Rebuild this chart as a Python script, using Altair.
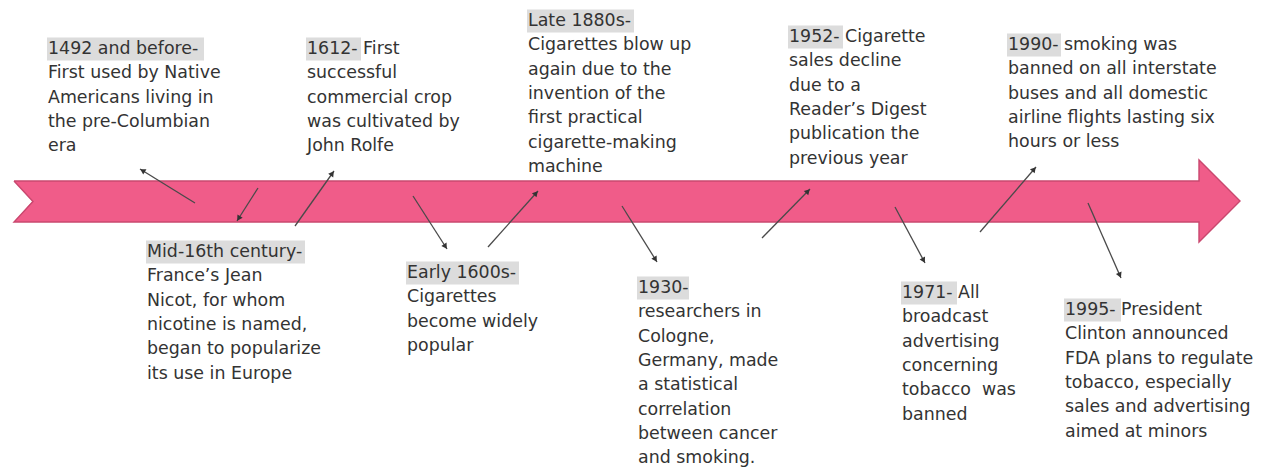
import altair as alt
import pandas as pd
import numpy as np

# ---------------- content ----------------
titles = ["1492 and before-", "1612-", "Late 1880s-", "1952-", "1990-",
          "Mid-16th century-", "Early 1600s-", "1930-", "1971-", "1995-"]
title_tail = ["", " First", "", " Cigarette", " smoking was",
              "", "", "", " All", " President"]
bodies = [
    ["First used by Native", "Americans living in", "the pre-Columbian", "era"],
    ["successful", "commercial crop", "was cultivated by", "John Rolfe"],
    ["Cigarettes blow up", "again due to the", "invention of the", "first practical",
     "cigarette-making", "machine"],
    ["sales decline", "due to a", "Reader’s Digest", "publication the", "previous year"],
    ["banned on all interstate", "buses and all domestic", "airline flights lasting six",
     "hours or less"],
    ["France’s Jean", "Nicot, for whom", "nicotine is named,", "began to popularize",
     "its use in Europe"],
    ["Cigarettes", "become widely", "popular"],
    ["researchers in", "Cologne,", "Germany, made", "a statistical", "correlation",
     "between cancer", "and smoking."],
    ["broadcast", "advertising", "concerning", "tobacco\u00a0 was", "banned"],
    ["Clinton announced", "FDA plans to regulate", "tobacco, especially",
     "sales and advertising", "aimed at minors"],
]

# ---------------- layout (page pixel coordinates) ----------------
label_x = [48, 307, 528, 789, 1008, 147, 407, 638, 902, 1065]
label_y = [49, 49, 21, 37, 45, 252, 273, 288, 293, 310]
highlight_w = [157, 55, 107, 55, 54, 159, 113, 52, 56, 57]
line_gap = 24.3

arrow_x1 = [195, 258, 295, 413, 488, 622, 762, 895, 980, 1088]
arrow_y1 = [203, 188, 226, 196, 247, 206, 238, 207, 232, 203]
arrow_x2 = [140, 237, 334, 447, 538, 657, 810, 925, 1036, 1121]
arrow_y2 = [169, 221, 171, 249, 191, 262, 189, 263, 167, 278]

band_part = ["upper"] * 3 + ["lower"] * 3 + ["head"] * 2
band_x = [14, 33, 1199, 14, 33, 1199, 1199, 1240]
band_y = [181, 181, 181, 222, 200.5, 200.5, 160, 201]
band_y2 = [181, 202, 202, 222, 222, 222, 242, 201]

outline_x = [14, 1199, 1199, 1240, 1199, 1199, 14, 33, 14]
outline_y = [181, 181, 160, 201, 242, 222, 222, 201.5, 181]

FONT = "DejaVu Sans"
FS = 17.4
PINK = "#f05c89"
EDGE = "#c9486f"
INK = "#333333"

# ---------------- tables ----------------
rows = []
for i, t in enumerate(titles):
    rows.append({"x": label_x[i], "y": label_y[i], "text": t + title_tail[i], "kind": "title"})
    for j, line in enumerate(bodies[i]):
        rows.append({"x": label_x[i], "y": label_y[i] + (j + 1) * line_gap,
                     "text": line, "kind": "body"})
lines_df = pd.DataFrame(rows)

hl_df = pd.DataFrame({
    "x": np.array(label_x) - 1,
    "x2": np.array(label_x) - 1 + np.array(highlight_w),
    "y": np.array(label_y) - 11.5,
    "y2": np.array(label_y) + 11.5,
})

ax1, ay1 = np.array(arrow_x1, float), np.array(arrow_y1, float)
ax2, ay2 = np.array(arrow_x2, float), np.array(arrow_y2, float)
dx, dy = ax2 - ax1, ay2 - ay1
ln = np.hypot(dx, dy)
ang = np.degrees(np.arctan2(dx, -dy)) % 360
conn_df = pd.DataFrame({"x": ax1, "y": ay1, "x2": ax2, "y2": ay2})
head_df = pd.DataFrame({"x": ax2 - dx / ln * 3, "y": ay2 - dy / ln * 3, "angle": ang})

band_df = pd.DataFrame({"part": band_part, "x": band_x, "y": band_y, "y2": band_y2})
outline_df = pd.DataFrame({"i": range(len(outline_x)), "x": outline_x, "y": outline_y})

# ---------------- scales ----------------
W, H = 1252, 452
xs = alt.Scale(domain=[8, 8 + W], nice=False, zero=False)
ys = alt.Scale(domain=[8, 8 + H], nice=False, zero=False, reverse=True)
X = lambda f: alt.X(f, type="quantitative", scale=xs, axis=None)
Y = lambda f: alt.Y(f, type="quantitative", scale=ys, axis=None)

band = alt.Chart(band_df).mark_area(color=PINK, opacity=1, interpolate="linear").encode(
    x=X("x"), y=Y("y"), y2="y2", detail="part:N"
)
outline = alt.Chart(outline_df).mark_line(color=EDGE, strokeWidth=1.4, strokeJoin="miter").encode(
    x=X("x"), y=Y("y"), order="i:Q"
)
conn = alt.Chart(conn_df).mark_rule(color="#4a4a4a", strokeWidth=1.3).encode(
    x=X("x"), y=Y("y"), x2="x2", y2="y2"
)
heads = alt.Chart(head_df).mark_point(shape="triangle-up", filled=True, color="#333333",
                                      size=38, opacity=1).encode(
    x=X("x"), y=Y("y"), angle=alt.Angle("angle:Q", scale=None)
)
hl = alt.Chart(hl_df).mark_rect(color="#dcdcdc").encode(
    x=X("x"), x2="x2", y=Y("y"), y2="y2"
)
text = alt.Chart(lines_df).mark_text(align="left", baseline="middle", font=FONT,
                                     fontSize=FS, color=INK).encode(
    x=X("x"), y=Y("y"), text="text:N"
)

chart = alt.layer(band, outline, conn, heads, hl, text).properties(
    width=W, height=H, padding=0, background="#ffffff"
).configure_view(stroke=None)

chart.save("out.html", embed_options={"renderer": "svg", "actions": False})
